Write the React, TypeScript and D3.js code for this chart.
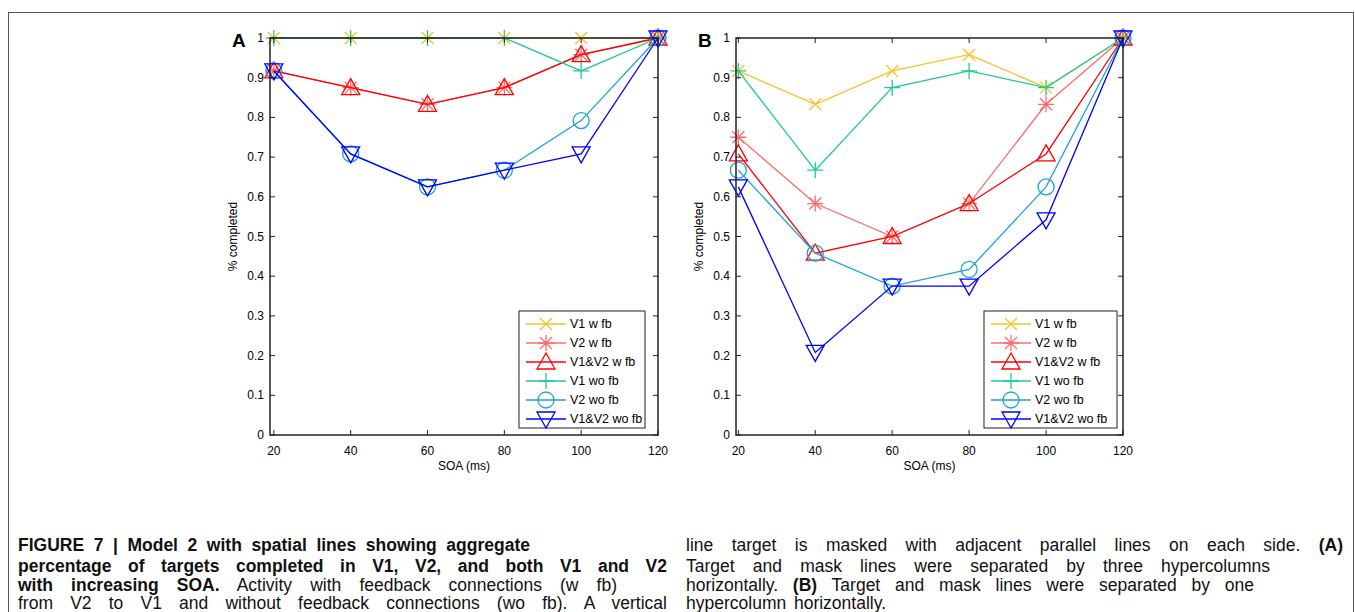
import React, { useLayoutEffect, useRef, useState } from "react";
import * as d3 from "d3";

// SOA values on the x axis
const soa = [20, 40, 60, 80, 100, 120];
const yTicks = [0, 0.1, 0.2, 0.3, 0.4, 0.5, 0.6, 0.7, 0.8, 0.9, 1];

const seriesNames = ["V1 w fb", "V2 w fb", "V1&V2 w fb", "V1 wo fb", "V2 wo fb", "V1&V2 wo fb"];
const seriesColors = ["#fbbf26", "#ff6b6b", "#ff0000", "#1fcb8f", "#1ea3d6", "#0000ff"];
const seriesMarkers = ["x", "star", "up", "plus", "circle", "down"];

// Panel A: three hypercolumns apart
const aV1wFb = [1, 1, 1, 1, 1, 1];
const aV2wFb = [0.917, 0.875, 0.833, 0.875, 0.958, 1];
const aBothwFb = [0.917, 0.875, 0.833, 0.875, 0.958, 1];
const aV1woFb = [1, 1, 1, 1, 0.917, 1];
const aV2woFb = [0.917, 0.708, 0.625, 0.667, 0.792, 1];
const aBothwoFb = [0.917, 0.708, 0.625, 0.667, 0.708, 1];

// Panel B: one hypercolumn apart
const bV1wFb = [0.917, 0.833, 0.917, 0.958, 0.875, 1];
const bV2wFb = [0.75, 0.583, 0.5, 0.583, 0.833, 1];
const bBothwFb = [0.708, 0.458, 0.5, 0.583, 0.708, 1];
const bV1woFb = [0.917, 0.667, 0.875, 0.917, 0.875, 1];
const bV2woFb = [0.667, 0.458, 0.375, 0.417, 0.625, 1];
const bBothwoFb = [0.625, 0.208, 0.375, 0.375, 0.542, 1];

const font = "'Liberation Sans', Arial, sans-serif";

function markerPath(kind: string): string {
  switch (kind) {
    case "x":
      return "M-6,-6L6,6M-6,6L6,-6";
    case "star":
      return "M-6,-6L6,6M-6,6L6,-6M0,-8L0,8M-8,0L8,0";
    case "plus":
      return "M-8,0L8,0M0,-8L0,8";
    case "up":
      return "M0,-9L9,7L-9,7Z";
    case "down":
      return "M0,9L9,-7L-9,-7Z";
    default:
      return "";
  }
}

function Marker({ kind, x, y, color }: { kind: string; x: number; y: number; color: string }) {
  if (kind === "circle") {
    return <circle cx={x} cy={y} r={8} fill="none" stroke={color} strokeWidth={1.3} />;
  }
  return (
    <path d={markerPath(kind)} transform={`translate(${x},${y})`} fill="none" stroke={color} strokeWidth={1.3} />
  );
}

function Panel({
  left, right, xMin, letter, data, legendX, legendW,
}: {
  left: number; right: number; xMin: number; letter: string; data: number[][]; legendX: number; legendW: number;
}) {
  const top = 38;
  const bottom = 435;
  const x = d3.scaleLinear().domain([xMin, 120]).range([left, right]);
  const y = d3.scaleLinear().domain([0, 1]).range([bottom, top]);
  const line = d3
    .line<number>()
    .x((_, i) => x(soa[i]))
    .y((d) => y(d));

  return (
    <g fontFamily={font}>
      {/* lines and markers */}
      {data.map((vals, s) => (
        <g key={s}>
          <path d={line(vals) || ""} fill="none" stroke={seriesColors[s]} strokeWidth={1.3} />
          {vals.map((v, i) => (
            <Marker key={i} kind={seriesMarkers[s]} x={x(soa[i])} y={y(v)} color={seriesColors[s]} />
          ))}
        </g>
      ))}

      {/* axis box and inward ticks */}
      <rect x={left} y={top} width={right - left} height={bottom - top} fill="none" stroke="#222" strokeWidth={1.5} />
      {soa.map((t) => (
        <g key={t}>
          <line x1={x(t)} x2={x(t)} y1={bottom} y2={bottom - 5} stroke="#222" />
          <line x1={x(t)} x2={x(t)} y1={top} y2={top + 5} stroke="#222" />
          <text x={x(t)} y={455} fontSize={12} textAnchor="middle">{t}</text>
        </g>
      ))}
      {yTicks.map((t) => (
        <g key={t}>
          <line x1={left} x2={left + 5} y1={y(t)} y2={y(t)} stroke="#222" />
          <line x1={right} x2={right - 5} y1={y(t)} y2={y(t)} stroke="#222" />
          <text x={left - 6} y={y(t) + 4} fontSize={12} textAnchor="end">{t}</text>
        </g>
      ))}
      <text x={(left + right) / 2} y={470} fontSize={12} textAnchor="middle">SOA (ms)</text>
      <text
        transform={`translate(${left - 33},${(top + bottom) / 2}) rotate(-90)`}
        fontSize={12}
        textAnchor="middle"
      >
        % completed
      </text>
      <text x={left - 38} y={47} fontSize={19} fontWeight="bold" textAnchor="start">{letter}</text>

      {/* legend */}
      <rect x={legendX} y={311} width={legendW} height={117} fill="#fff" stroke="#222" strokeWidth={1} />
      {seriesNames.map((name, i) => {
        const ly = 324 + i * 19;
        return (
          <g key={name}>
            <line x1={legendX + 7} x2={legendX + 47} y1={ly} y2={ly} stroke={seriesColors[i]} strokeWidth={1.3} />
            <Marker kind={seriesMarkers[i]} x={legendX + 27} y={ly} color={seriesColors[i]} />
            <text x={legendX + 51} y={ly + 4} fontSize={12.5}>{name}</text>
          </g>
        );
      })}
    </g>
  );
}

// caption lines, justified by widening the word spaces
function CapLine({ x, y, len, children, bold }: { x: number; y: number; len: number; children: React.ReactNode; bold?: boolean }) {
  const ref = useRef<SVGTextElement>(null);
  const [ws, setWs] = useState(0);
  useLayoutEffect(() => {
    const el = ref.current;
    if (!el) return;
    const natural = el.getComputedTextLength();
    const words = (el.textContent || "").replace(/\s+/g, " ").trim().split(" ");
    const gaps = Math.max(1, words.length - 1);
    setWs((len - natural) / gaps);
  }, [len]);
  return (
    <text ref={ref} x={x} y={y} wordSpacing={ws} fontWeight={bold ? "bold" : "normal"}>
      {children}
    </text>
  );
}

export default function App() {
  return (
    <svg width={1355} height={612} style={{ position: "absolute", left: 0, top: 0, background: "#fff" }}>
      <rect x={8.5} y={12.5} width={1345} height={700} fill="none" stroke="#555" strokeWidth={1} />
      <Panel
        left={270}
        right={658}
        xMin={19}
        letter="A"
        data={[aV1wFb, aV2wFb, aBothwFb, aV1woFb, aV2woFb, aBothwoFb]}
        legendX={519}
        legendW={126}
      />
      <Panel
        left={736}
        right={1123}
        xMin={19.4}
        letter="B"
        data={[bV1wFb, bV2wFb, bBothwFb, bV1woFb, bV2woFb, bBothwoFb]}
        legendX={984}
        legendW={133}
      />

      {/* caption */}
      <g fontFamily={font} fontSize={17.5} fill="#111">
        <CapLine x={18} y={551} len={512} bold>
          FIGURE 7 | Model 2 with spatial lines showing aggregate
        </CapLine>
        <CapLine x={18} y={572} len={649} bold>
          percentage of targets completed in V1, V2, and both V1 and V2
        </CapLine>
        <CapLine x={18} y={591} len={599}>
          <tspan fontWeight="bold">with increasing SOA.</tspan> Activity with feedback connections (w fb)
        </CapLine>
        <CapLine x={18} y={609} len={649}>
          from V2 to V1 and without feedback connections (wo fb). A vertical
        </CapLine>
        <CapLine x={686} y={551} len={657}>
          line target is masked with adjacent parallel lines on each side. <tspan fontWeight="bold">(A)</tspan>
        </CapLine>
        <CapLine x={686} y={572} len={584}>
          Target and mask lines were separated by three hypercolumns
        </CapLine>
        <CapLine x={686} y={591} len={568}>
          horizontally. <tspan fontWeight="bold">(B)</tspan> Target and mask lines were separated by one
        </CapLine>
        <CapLine x={686} y={609} len={200}>
          hypercolumn  horizontally.
        </CapLine>
      </g>
    </svg>
  );
}
